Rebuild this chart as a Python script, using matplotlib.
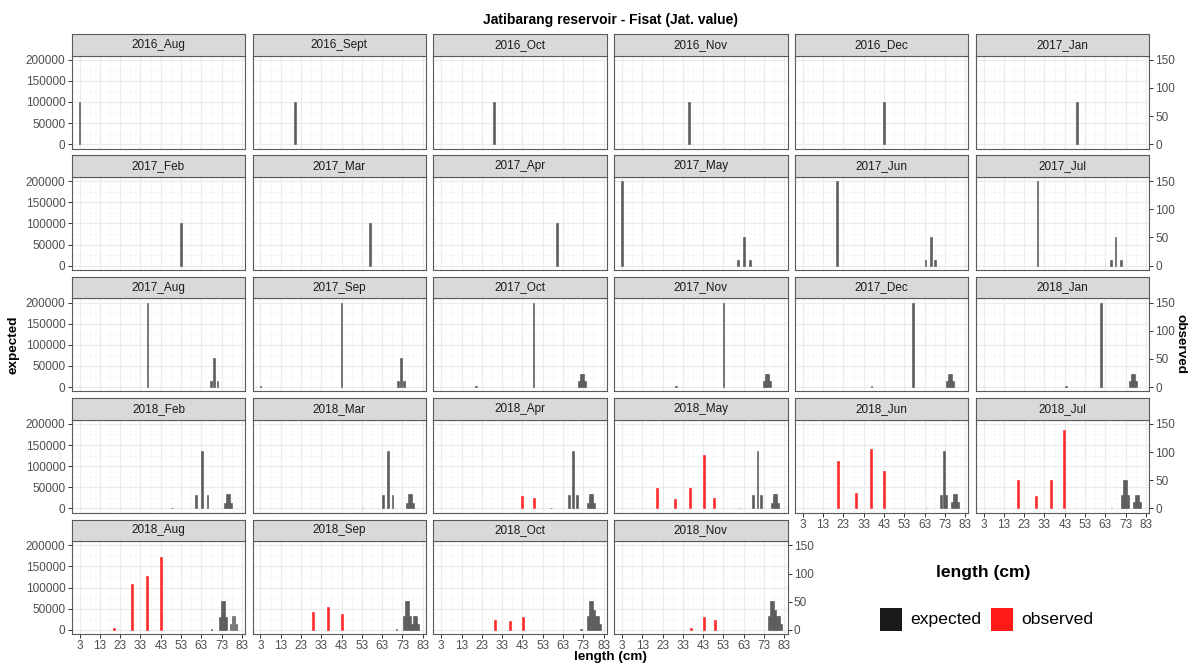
import matplotlib
matplotlib.use('Agg')
import matplotlib.pyplot as plt
from matplotlib.patches import Rectangle

plt.rcParams['font.family'] = ['Liberation Sans', 'DejaVu Sans']

# ---------------- data ----------------
months = ['2016_Aug', '2016_Sept', '2016_Oct', '2016_Nov', '2016_Dec', '2017_Jan',
          '2017_Feb', '2017_Mar', '2017_Apr', '2017_May', '2017_Jun', '2017_Jul',
          '2017_Aug', '2017_Sep', '2017_Oct', '2017_Nov', '2017_Dec', '2018_Jan',
          '2018_Feb', '2018_Mar', '2018_Apr', '2018_May', '2018_Jun', '2018_Jul',
          '2018_Aug', '2018_Sep', '2018_Oct', '2018_Nov']

# expected frequencies (left axis): length classes and values per month
exp_len = [
    [3], [20], [29], [36], [43], [49],
    [53], [57], [60], [3, 60, 63, 66], [20, 63.5, 66, 68], [29.5, 65.6, 68, 70.6],
    [36.5, 67.8, 69.4, 71], [3, 43, 70.8, 72.2, 73.6], [20, 48.5, 71, 72, 73, 74],
    [29.5, 53, 73, 74, 75, 76], [36.8, 57.4, 74, 75, 76, 77], [43.5, 60.7, 75, 76, 77, 78],
    [48.5, 60.4, 63.2, 66, 74.5, 75.5, 76.5, 77.5],
    [53.3, 63.4, 65.8, 68.1, 75.2, 76.2, 77.2, 78.2],
    [57.1, 65.8, 68, 70, 75.2, 76.2, 77.2, 78.2],
    [60.9, 67.7, 69.7, 71.6, 76.8, 77.8, 78.8, 79.8],
    [64, 71, 72.4, 73.7, 76.5, 77.5, 78.5, 79.5],
    [66, 71.2, 72.2, 73.2, 74.2, 77.2, 78.2, 79.2, 80.2],
    [68, 72.3, 73.3, 74.3, 75.3, 77.3, 78.3, 79.3, 80.3],
    [70, 73.6, 74.6, 75.6, 76.6, 77.6, 78.6, 79.6, 80.6],
    [72, 75.4, 76.4, 77.4, 78.4, 79.4, 80.4, 81.4],
    [75.4, 76.4, 77.4, 78.4, 79.4, 80.4, 81.4],
]
exp_val = [
    [100000], [100000], [100000], [100000], [100000], [100000],
    [100000], [100000], [100000], [200000, 14000, 68000, 14000],
    [200000, 14000, 68000, 14000], [200000, 14000, 68000, 14000],
    [200000, 14000, 68000, 14000], [1500, 200000, 14000, 68000, 14000],
    [1500, 200000, 14000, 32000, 32000, 14000],
    [1500, 200000, 14000, 32000, 32000, 14000],
    [1500, 200000, 14000, 32000, 32000, 14000],
    [1500, 200000, 14000, 32000, 32000, 14000],
    [1500, 31000, 136000, 31000, 14000, 34000, 34000, 14000],
    [1500, 31000, 136000, 31000, 14000, 34000, 34000, 14000],
    [1500, 31000, 136000, 31000, 14000, 34000, 34000, 14000],
    [1500, 31000, 136000, 31000, 14000, 34000, 34000, 14000],
    [1000, 31000, 135500, 31000, 15500, 33500, 33500, 15500],
    [1000, 31000, 68000, 68000, 31000, 15500, 33000, 33000, 15500],
    [1000, 31500, 68000, 68000, 31500, 13000, 33000, 33000, 13000],
    [1000, 32000, 68000, 68000, 32000, 15000, 34000, 34000, 15000],
    [1000, 32000, 68000, 68000, 48000, 34000, 34000, 15000],
    [32000, 68000, 68000, 48000, 34000, 34000, 15000],
]

# observed frequencies (right axis)
obs_len = [[]] * 20 + [
    [43, 48.5],
    [20.3, 29.2, 36.7, 43.3, 48.5],
    [20.3, 29.2, 36.6, 43.2],
    [20.1, 28.8, 36.3, 42.8],
    [20, 28.9, 36.3, 43],
    [29, 36.5, 43.1],
    [29.3, 37, 43.4],
    [37, 43.6, 49],
]
obs_val = [[]] * 20 + [
    [22, 18],
    [37, 17, 35.5, 95, 19],
    [83.5, 27.5, 105, 66],
    [51, 22, 51, 139],
    [3, 80.6, 95, 130],
    [31, 41, 28.5],
    [17.8, 16.5, 23],
    [3, 23, 17.8],
]

x_breaks = list(range(3, 84, 10))
y_breaks = [0, 50000, 100000, 150000, 200000]
obs_breaks = [0, 50, 100, 150]
SCALE = 4000 / 3  # expected units per observed unit

# ---------------- layout ----------------
W, H = 1188, 665
fig = plt.figure(figsize=(W / 100, H / 100), dpi=100)
fig.patch.set_facecolor('white')


def rect(x0, y0, w, h):
    return [x0 / W, 1 - (y0 + h) / H, w / W, h / H]


col_left = [71.7 + 180.8 * c for c in range(6)]
pw = 173.5
strip_top = [34 + 121.4 * r for r in range(5)]
sh = 21.5
ph = 93

n = len(months)
tick_col = '#4d4d4d'
exp_col = '#5c5c5c'
obs_col = '#ff2a2a'
for i, m in enumerate(months):
    r, c = divmod(i, 6)
    x0 = col_left[c]
    st = strip_top[r]
    ax = fig.add_axes(rect(x0, st + sh, pw, ph))
    ax.set_xlim(-0.9, 84.6)
    ax.set_ylim(-10000, 210000)
    ax.set_xticks(x_breaks)
    ax.set_xticks([b + 5 for b in x_breaks[:-1]], minor=True)
    ax.set_yticks(y_breaks)
    ax.set_yticks([25000, 75000, 125000, 175000], minor=True)
    ax.set_yticklabels([str(v) for v in y_breaks])
    ax.grid(which='major', color='#ebebeb', lw=0.9, zorder=0)
    ax.grid(which='minor', color='#f4f4f4', lw=0.5, zorder=0)
    ax.set_axisbelow(True)
    for s in ax.spines.values():
        s.set_color('#5a5a5a')
        s.set_linewidth(0.8)
    ax.tick_params(which='minor', length=0)
    ax.tick_params(which='major', length=3, color='#333333', width=0.7,
                   labelsize=8.5, labelcolor=tick_col, pad=1.5)

    ax.bar(exp_len[i], exp_val[i], width=0.85, color=exp_col,
           edgecolor=exp_col, linewidth=0.45, zorder=2)
    if obs_len[i]:
        ax.bar(obs_len[i], [v * SCALE for v in obs_val[i]], width=0.95,
               color=obs_col, edgecolor=obs_col, linewidth=0.45, zorder=3)

    left = (c == 0)
    below_exists = (i + 6) < n
    last_in_row = (c == 5) or (i == n - 1)
    ax.tick_params(left=left, labelleft=left,
                   bottom=not below_exists, labelbottom=not below_exists)
    if last_in_row:
        sec = ax.secondary_yaxis('right', functions=(lambda y: y / SCALE,
                                                     lambda o: o * SCALE))
        sec.set_yticks(obs_breaks)
        sec.set_yticklabels([str(v) for v in obs_breaks])
        sec.tick_params(length=3, color='#333333', width=0.7, labelsize=8.5,
                        labelcolor=tick_col, pad=1.5)
        sec.spines['right'].set_visible(False)

    sax = fig.add_axes(rect(x0, st, pw, sh))
    sax.set_facecolor('#d9d9d9')
    sax.set_xticks([])
    sax.set_yticks([])
    for s in sax.spines.values():
        s.set_color('#5a5a5a')
        s.set_linewidth(0.8)
    sax.text(0.5, 0.5, m, ha='center', va='center', fontsize=8.5,
             color='#1a1a1a', transform=sax.transAxes)

# titles
fig.text(610 / W, 1 - 20 / H, 'Jatibarang reservoir - Fisat (Jat. value)',
         ha='center', va='center', fontsize=10, fontweight='bold')
fig.text(610 / W, 1 - 657 / H, 'length (cm)', ha='center', va='center',
         fontsize=9.7, fontweight='bold')
fig.text(14 / W, 1 - 345 / H, 'expected', ha='center', va='center',
         rotation=90, fontsize=9.7, fontweight='bold')
fig.text(1180 / W, 1 - 344 / H, 'observed', ha='center', va='center',
         rotation=-90, fontsize=9.7, fontweight='bold')

# legend
fig.text(983 / W, 1 - 573 / H, 'length (cm)', ha='center', va='center',
         fontsize=12.6, fontweight='bold')
leg_items = [('expected', '#1a1a1a', 880), ('observed', '#ff1a1a', 991)]
for lab, colr, kx in leg_items:
    fig.patches.append(Rectangle((kx / W, 1 - 631 / H), 22 / W, 23 / H,
                                 transform=fig.transFigure, facecolor=colr,
                                 edgecolor='none'))
    fig.text((kx + 30) / W, 1 - 619.5 / H, lab, ha='left', va='center',
             fontsize=12.6)

fig.savefig('out.png', dpi=100)
